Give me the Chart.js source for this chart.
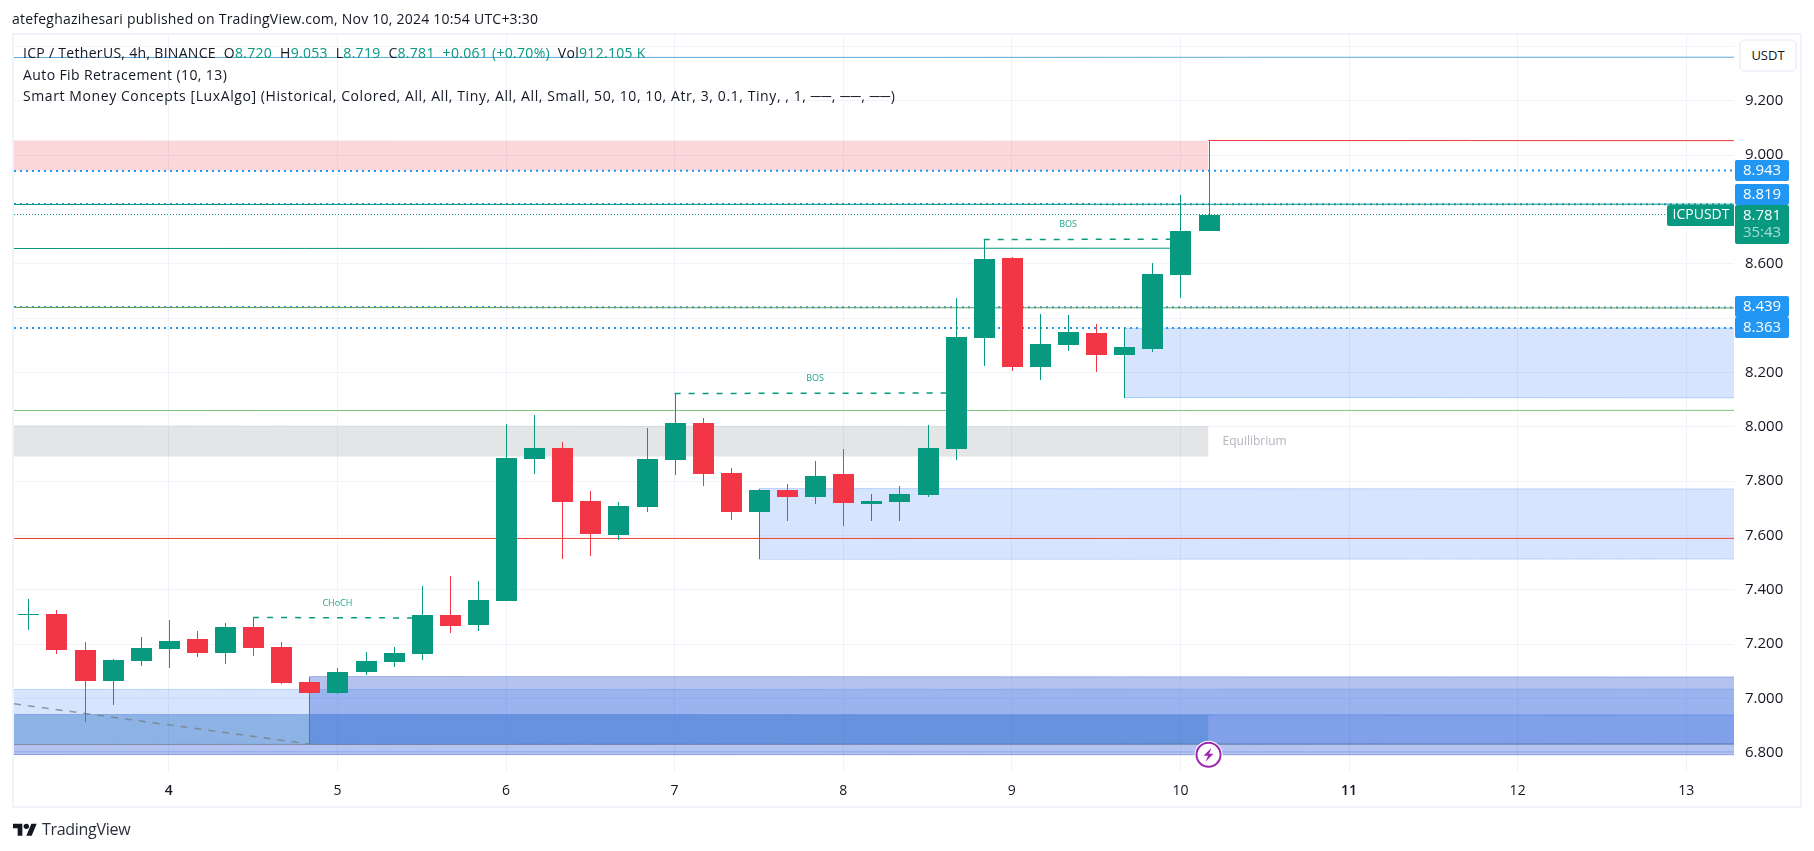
<!DOCTYPE html>
<html lang="en">
<head>
  <meta charset="UTF-8">
  <title>ICP / TetherUS, 4h, BINANCE</title>
  <script src="https://cdn.jsdelivr.net/npm/chart.js"></script>
  <style>
    * {
      margin: 0;
      padding: 0;
      box-sizing: border-box;
    }

    body {
      width: 1814px;
      height: 851px;
      background: #ffffff;
      color: #131722;
      font-family: 'Open Sans', sans-serif;
      overflow: hidden;
      position: relative;
    }

    canvas {
      position: absolute;
      left: 0;
      top: 0;
    }

    .frame {
      position: absolute;
      left: 12px;
      top: 33px;
      width: 1790px;
      height: 775px;
      border: 2px solid #f0f3fa;
    }

    .text-line {
      position: absolute;
      white-space: nowrap;
      font-size: 14px;
      line-height: 20px;
    }

    .up {
      color: #089981;
    }

    .currency {
      position: absolute;
      left: 1739px;
      top: 39px;
      width: 58px;
      height: 33px;
      background: #ffffff;
      border: 2px solid #f0f3fa;
      border-radius: 6px;
      font-size: 13px;
      line-height: 29px;
      text-align: center;
    }

    .logo {
      position: absolute;
      left: 13px;
      top: 821px;
      width: 24px;
      height: 16px;
    }

    .logo-text {
      position: absolute;
      left: 42px;
      top: 818px;
      font-size: 16px;
      letter-spacing: -0.3px;
      line-height: 22px;
      color: #2a2e39;
    }
  </style>
</head>
<body>
  <canvas id="priceChart" width="1814" height="851"></canvas>
  <div class="frame"></div>

  <div class="text-line" style="left:12px; top:9px; letter-spacing:0.23px">atefeghazihesari published on TradingView.com, Nov 10, 2024 10:54 UTC+3:30</div>
  <div class="text-line" style="left:23px; top:43px; letter-spacing:0.3px">ICP / TetherUS, 4h, BINANCE&nbsp; O<span class="up">8.720</span>&nbsp; H<span class="up">9.053</span>&nbsp; L<span class="up">8.719</span>&nbsp; C<span class="up">8.781</span>&nbsp; <span class="up">+0.061 (+0.70%)</span>&nbsp; Vol<span class="up">912.105 K</span></div>
  <div class="text-line" style="left:23px; top:65px; letter-spacing:0.4px">Auto Fib Retracement (10, 13)</div>
  <div class="text-line" style="left:23px; top:86px; letter-spacing:0.59px">Smart Money Concepts [LuxAlgo] (Historical, Colored, All, All, Tiny, All, All, Small, 50, 10, 10, Atr, 3, 0.1, Tiny, , 1, ──, ──, ──)</div>

  <div class="currency">USDT</div>

  <svg class="logo" viewBox="0 0 36 24"><path fill="#131722" d="M14 22H7V11H0V4h14v18zM28 22h-8l7.5-18h8L28 22z"></path><circle fill="#131722" cx="20" cy="8" r="4"></circle></svg>
  <div class="logo-text">TradingView</div>

  <script>
    // candles, 4h bars
    const candleOpen = [7.310, 7.311, 7.178, 7.064, 7.138, 7.182, 7.219, 7.167, 7.263, 7.190, 7.060, 7.020, 7.097, 7.134, 7.163, 7.307, 7.270, 7.360, 7.881, 7.922, 7.727, 7.601, 7.704, 7.877, 8.014, 7.830, 7.686, 7.767, 7.741, 7.826, 7.716, 7.723, 7.748, 7.918, 8.326, 8.621, 8.220, 8.301, 8.345, 8.264, 8.286, 8.558, 8.720];
    const candleHigh = [7.366, 7.326, 7.208, 7.145, 7.226, 7.289, 7.248, 7.278, 7.296, 7.208, 7.079, 7.112, 7.171, 7.190, 7.414, 7.451, 7.432, 8.010, 8.043, 7.944, 7.764, 7.723, 7.995, 8.124, 8.032, 7.848, 7.771, 7.789, 7.874, 7.918, 7.752, 7.782, 8.006, 8.474, 8.691, 8.625, 8.415, 8.411, 8.378, 8.363, 8.603, 8.853, 9.053];
    const candleLow = [7.252, 7.164, 6.913, 6.976, 7.119, 7.112, 7.152, 7.127, 7.156, 7.053, 6.832, 7.017, 7.086, 7.116, 7.141, 7.241, 7.248, 7.360, 7.826, 7.513, 7.524, 7.583, 7.686, 7.822, 7.782, 7.657, 7.513, 7.653, 7.716, 7.635, 7.653, 7.653, 7.741, 7.877, 8.224, 8.205, 8.172, 8.279, 8.201, 8.106, 8.275, 8.474, 8.719];
    const candleClose = [7.311, 7.178, 7.064, 7.141, 7.186, 7.211, 7.167, 7.263, 7.186, 7.057, 7.020, 7.097, 7.138, 7.167, 7.307, 7.267, 7.362, 7.885, 7.922, 7.723, 7.605, 7.708, 7.881, 8.014, 7.826, 7.686, 7.767, 7.741, 7.819, 7.719, 7.727, 7.752, 7.922, 8.330, 8.617, 8.220, 8.305, 8.349, 8.264, 8.293, 8.562, 8.720, 8.781];

    // axes
    const xMin = -0.509;
    const xMax = 60.7;
    const yMin = 6.729;
    const yMax = 9.4418;
    const dayTicks = [5, 11, 17, 23, 29, 35, 41, 47, 53, 59];
    const dayLabels = ['4', '5', '6', '7', '8', '9', '10', '11', '12', '13'];
    const boldDays = ['4', '11'];
    const priceTicks = [6.8, 7.0, 7.2, 7.4, 7.6, 7.8, 8.0, 8.2, 8.4, 8.6, 8.8, 9.0, 9.2, 9.4];
    const priceTickLabels = ['6.800', '7.000', '7.200', '7.400', '7.600', '7.800', '8.000', '8.200', '', '8.600', '', '9.000', '9.200', ''];

    // zones (order blocks, premium / equilibrium / discount)
    const zoneFrom = [xMin, xMin, 39, 26, xMin, 10, xMin, xMin, xMin];
    const zoneTo = [42, 42, xMax, xMax, xMax, xMax, xMax, 42, xMax];
    const zoneTop = [9.053, 8.003, 8.363, 7.771, 7.034, 7.079, 6.939, 6.939, 6.832];
    const zoneBottom = [8.943, 7.890, 8.106, 7.513, 6.832, 6.832, 6.792, 6.832, 6.792];
    const zoneFill = ['rgba(242,54,69,0.2)', 'rgba(120,123,134,0.2)', 'rgba(49,121,245,0.2)', 'rgba(49,121,245,0.2)', 'rgba(49,121,245,0.2)', 'rgba(24,72,204,0.33)', 'rgba(24,72,204,0.2)', 'rgba(60,155,165,0.3)', 'rgba(24,72,204,0.16)'];
    const zoneEdge = ['transparent', 'transparent', 'rgba(49,121,245,0.25)', 'rgba(49,121,245,0.25)', 'rgba(49,121,245,0.25)', 'rgba(24,72,204,0.3)', 'rgba(24,72,204,0.3)', 'transparent', 'transparent'];

    // horizontal levels
    const levelFrom = [xMin, 42, xMin, xMin, xMin, xMin, xMin, xMin, xMin, xMin, xMin, xMin, xMin, xMin];
    const levelTo = [xMax, xMax, xMax, xMax, xMax, xMax, 41, xMax, xMax, xMax, xMax, xMax, xMax, xMax];
    const levelPrice = [9.360, 9.053, 8.943, 8.819, 8.819, 8.781, 8.657, 8.437, 8.439, 8.363, 8.060, 7.589, 6.832, 6.804];
    const levelColor = ['#5ea9dd', '#f23645', '#2196f3', '#089981', '#2196f3', '#089981', '#089981', '#5e9f5a', '#2196f3', '#2196f3', '#7bc67e', '#f44336', 'rgba(120,123,134,0.7)', 'rgba(41,98,255,0.2)'];
    const levelDash = [[], [], [2, 4], [], [2, 4], [1, 2], [], [], [2, 4], [2, 4], [], [], [], []];
    const levelWidth = [1, 1, 2, 1, 2, 1, 1, 1, 2, 2, 1, 1, 1, 1];

    // structure breaks
    const signalNames = ['CHoCH', 'BOS', 'BOS'];
    const signalFrom = [8, 23, 34];
    const signalTo = [14, 33, 41];
    const signalPrice = [7.296, 8.124, 8.690];
    const signalLabelAt = [11, 28, 37];

    // fib trend line
    const trendX = [xMin, 10];
    const trendY = [6.980, 6.832];

    // price badges on the axis
    const badgePrices = [8.943, 8.819, 8.439, 8.363];
    const lastPrice = 8.781;
    const countdown = '35:43';
    const lightningAt = 42;
    const lightningPrice = 6.8;

    const GREEN = '#089981';
    const RED = '#f23645';
    const candleColors = candleOpen.map((o, i) => candleClose[i] >= o ? GREEN : RED);

    const datasets = [];

    datasets.push({
      type: 'bar',
      data: candleOpen.map((o, i) => ({ x: i, y: [o, candleClose[i]] })),
      backgroundColor: candleColors,
      maxBarThickness: 21,
      barPercentage: 1,
      inflateAmount: 0,
      grouped: false,
      order: 1
    });
    datasets.push({
      type: 'bar',
      data: candleLow.map((l, i) => ({ x: i, y: [l, candleHigh[i]] })),
      backgroundColor: candleColors,
      maxBarThickness: 1,
      barPercentage: 1,
      inflateAmount: 0,
      grouped: false,
      order: 2
    });

    function lineSet(xs, ys, color, dash, width, order) {
      return {
        type: 'line',
        data: xs.map((x, i) => ({ x: x, y: ys[i] })),
        borderColor: color,
        borderDash: dash,
        borderWidth: width,
        pointRadius: 0,
        fill: false,
        order: order
      };
    }

    signalNames.forEach((name, i) => {
      datasets.push(lineSet([signalFrom[i], signalTo[i]], [signalPrice[i], signalPrice[i]], GREEN, [6, 8], 1.5, 10));
    });
    datasets.push(lineSet(trendX, trendY, 'rgba(120,123,134,0.75)', [7, 7], 1.5, 10));

    levelPrice.forEach((p, i) => {
      datasets.push(lineSet([levelFrom[i], levelTo[i]], [p, p], levelColor[i], levelDash[i], levelWidth[i], 20));
    });

    zoneTop.forEach((top, i) => {
      const fillSet = lineSet([zoneFrom[i], zoneTo[i]], [top, top], zoneEdge[i], [], 1, 30);
      fillSet.fill = { target: { value: zoneBottom[i] }, above: zoneFill[i], below: zoneFill[i] };
      datasets.push(fillSet);
      datasets.push(lineSet([zoneFrom[i], zoneTo[i]], [zoneBottom[i], zoneBottom[i]], zoneEdge[i], [], 1, 30));
    });

    // keep candles and lines on whole pixels, the way the original looks
    const snapPlugin = {
      id: 'snap',
      beforeDatasetsDraw(chart) {
        chart.getSortedVisibleDatasetMetas().forEach(meta => {
          const width = chart.data.datasets[meta.index].borderWidth;
          meta.data.forEach(el => {
            if (meta.type === 'bar') {
              el.x = Math.round(el.x) + 0.5;
              el.y = Math.round(el.y);
              el.base = Math.round(el.base);
              if (el.y === el.base) el.base = el.y + 1;
            } else if (meta.data.length === 2 && meta.data[0].y === meta.data[1].y) {
              el.y = width === 2 ? Math.round(el.y) : Math.floor(el.y) + 0.5;
            }
          });
        });
      }
    };

    const overlayPlugin = {
      id: 'overlay',
      afterDatasetsDraw(chart) {
        const ctx = chart.ctx;
        const xs = chart.scales.x;
        const ys = chart.scales.y;
        ctx.save();
        ctx.textAlign = 'center';
        ctx.textBaseline = 'middle';

        // CHoCH / BOS
        ctx.font = "9px 'Open Sans'";
        ctx.fillStyle = 'rgba(8,153,129,0.9)';
        signalNames.forEach((name, i) => {
          ctx.fillText(name, xs.getPixelForValue(signalLabelAt[i]), ys.getPixelForValue(signalPrice[i]) - 15);
        });

        // equilibrium label
        ctx.font = "12px 'Open Sans'";
        ctx.fillStyle = '#b2b5be';
        ctx.textAlign = 'left';
        ctx.fillText('Equilibrium', xs.getPixelForValue(42) + 14, ys.getPixelForValue((zoneTop[1] + zoneBottom[1]) / 2));
        ctx.restore();
      },
      afterDraw(chart) {
        const ctx = chart.ctx;
        const xs = chart.scales.x;
        const ys = chart.scales.y;
        const axisLeft = chart.chartArea.right + 1;
        const lastY = Math.round(ys.getPixelForValue(lastPrice));
        const lastTop = lastY - 10;
        ctx.save();
        ctx.textAlign = 'center';
        ctx.textBaseline = 'middle';
        ctx.font = "15px 'Open Sans'";

        // blue badges slide out of each other's way like on the real scale
        let prevBottom = 0;
        badgePrices.forEach(p => {
          let top = Math.round(ys.getPixelForValue(p)) - 11;
          if (top < prevBottom) top = prevBottom;
          if (top + 21 > lastTop && top < lastTop + 39) top = lastTop - 21;
          ctx.fillStyle = '#2196f3';
          ctx.beginPath();
          ctx.roundRect(axisLeft, top, 54, 21, 2);
          ctx.fill();
          ctx.fillStyle = '#ffffff';
          ctx.fillText(p.toFixed(3), axisLeft + 27, top + 11);
          prevBottom = top + 21;
        });

        // last price, with the symbol tag and the countdown
        ctx.fillStyle = GREEN;
        ctx.beginPath();
        ctx.roundRect(axisLeft, lastTop, 54, 39, 2);
        ctx.fill();
        ctx.fillStyle = '#ffffff';
        ctx.fillText(lastPrice.toFixed(3), axisLeft + 27, lastY + 0.5);
        ctx.fillStyle = 'rgba(255,255,255,0.65)';
        ctx.fillText(countdown, axisLeft + 27, lastY + 18);
        ctx.font = "14px 'Open Sans'";
        ctx.fillStyle = GREEN;
        ctx.beginPath();
        ctx.roundRect(chart.chartArea.right - 67, lastTop, 67, 21, [2, 0, 0, 2]);
        ctx.fill();
        ctx.fillStyle = '#ffffff';
        ctx.fillText('ICPUSDT', chart.chartArea.right - 33, lastY + 0.5);

        // purple lightning marker
        const cx = xs.getPixelForValue(lightningAt);
        const cy = ys.getPixelForValue(lightningPrice) + 2;
        ctx.beginPath();
        ctx.arc(cx, cy, 14, 0, Math.PI * 2);
        ctx.fillStyle = '#ffffff';
        ctx.fill();
        ctx.beginPath();
        ctx.arc(cx, cy, 12, 0, Math.PI * 2);
        ctx.strokeStyle = '#9c27b0';
        ctx.lineWidth = 2;
        ctx.stroke();
        ctx.beginPath();
        ctx.moveTo(cx + 3, cy - 7);
        ctx.lineTo(cx - 5, cy + 1);
        ctx.lineTo(cx - 0.5, cy + 1);
        ctx.lineTo(cx - 3, cy + 7);
        ctx.lineTo(cx + 5, cy - 1);
        ctx.lineTo(cx + 0.5, cy - 1);
        ctx.closePath();
        ctx.fillStyle = '#9c27b0';
        ctx.fill();
        ctx.restore();
      }
    };

    new Chart(document.getElementById('priceChart'), {
      type: 'bar',
      data: { datasets: datasets },
      plugins: [snapPlugin, overlayPlugin],
      options: {
        responsive: false,
        animation: false,
        layout: { padding: { left: 14, top: 35, right: 14, bottom: 45 } },
        plugins: {
          legend: { display: false },
          tooltip: { enabled: false }
        },
        scales: {
          x: {
            type: 'linear',
            min: xMin,
            max: xMax,
            offset: false,
            border: { display: false },
            grid: { color: '#f0f3fa', offset: false, drawTicks: false },
            afterFit(scale) { scale.height = 34; },
            afterBuildTicks(scale) { scale.ticks = dayTicks.map(v => ({ value: v })); },
            ticks: {
              autoSkip: false,
              maxRotation: 0,
              padding: 11,
              color: '#131722',
              font(ctx) {
                const label = dayLabels[dayTicks.indexOf(ctx.tick && ctx.tick.value)];
                return { family: "'Open Sans'", size: 14, weight: boldDays.includes(label) ? '600' : '400' };
              },
              callback(value) { return dayLabels[dayTicks.indexOf(value)]; }
            }
          },
          y: {
            type: 'linear',
            position: 'right',
            min: yMin,
            max: yMax,
            border: { display: false },
            grid: { color: '#f0f3fa', drawTicks: false },
            afterFit(scale) { scale.width = 66; },
            afterBuildTicks(scale) { scale.ticks = priceTicks.map(v => ({ value: v })); },
            ticks: {
              autoSkip: false,
              padding: 11,
              color: '#131722',
              font: { family: "'Open Sans'", size: 15 },
              callback(value) { return priceTickLabels[priceTicks.indexOf(value)]; }
            }
          }
        }
      }
    });
  </script>
</body>
</html>
